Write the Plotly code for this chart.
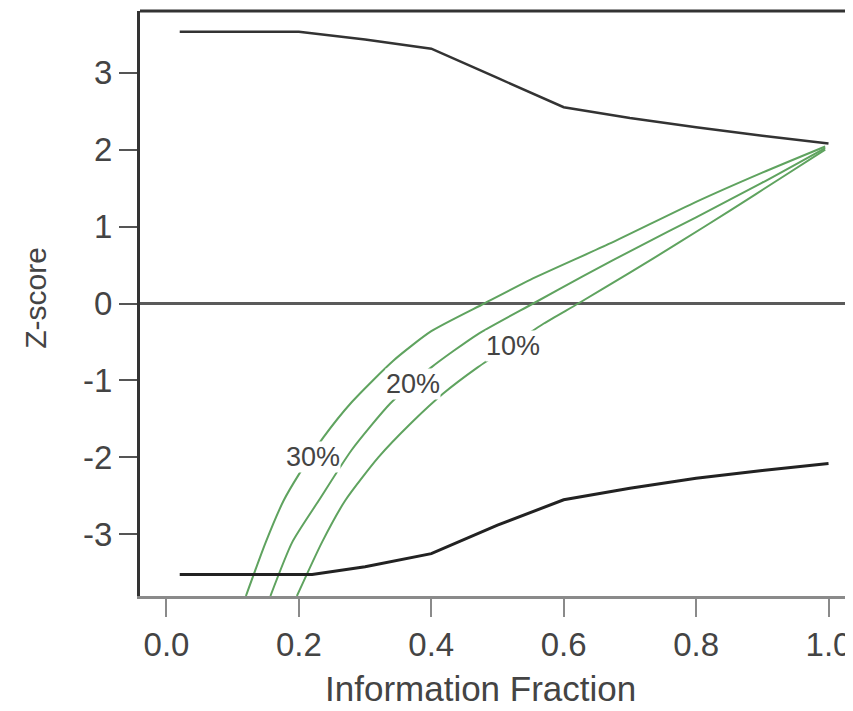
import plotly.graph_objects as go

# Monitoring boundaries (information fraction vs Z-score)
t_upper = [0.02, 0.2, 0.3, 0.4, 0.5, 0.6, 0.7, 0.8, 0.9, 1.0]
z_upper = [3.53, 3.53, 3.43, 3.31, 2.93, 2.55, 2.41, 2.29, 2.18, 2.08]
t_lower = [0.02, 0.22, 0.3, 0.4, 0.5, 0.6, 0.7, 0.8, 0.9, 1.0]
z_lower = [-3.52, -3.52, -3.42, -3.25, -2.88, -2.55, -2.40, -2.27, -2.17, -2.08]

# Cumulative Z-curves for assumed effects
t_30 = [0.12, 0.15, 0.177, 0.2, 0.237, 0.28, 0.343, 0.4, 0.48, 0.55, 0.67, 0.8, 0.9, 0.995]
z_30 = [-3.8, -3.1, -2.56, -2.22, -1.74, -1.28, -0.74, -0.36, 0.0, 0.31, 0.78, 1.32, 1.70, 2.04]
t_20 = [0.157, 0.19, 0.23, 0.28, 0.338, 0.4, 0.47, 0.554, 0.63, 0.716, 0.8, 0.9, 0.995]
z_20 = [-3.8, -3.1, -2.56, -1.9, -1.3, -0.83, -0.40, 0.0, 0.36, 0.75, 1.12, 1.57, 2.02]
t_10 = [0.197, 0.235, 0.27, 0.32, 0.37, 0.418, 0.47, 0.524, 0.57, 0.622, 0.7, 0.772, 0.85, 0.93, 0.995]
z_10 = [-3.8, -3.1, -2.56, -2.0, -1.55, -1.17, -0.83, -0.52, -0.26, 0.0, 0.40, 0.78, 1.2, 1.64, 2.0]

curve_labels = ["30%", "20%", "10%"]
label_t = [0.222, 0.373, 0.524]
label_z = [-2.0, -1.05, -0.55]

x_ticks = [0.0, 0.2, 0.4, 0.6, 0.8, 1.0]
x_ticktext = ["0.0", "0.2", "0.4", "0.6", "0.8", "1.0"]
y_ticks = [-3, -2, -1, 0, 1, 2, 3]
y_ticktext = ["-3", "-2", "-1", "0", "1", "2", "3"]

FONT = "Liberation Sans, Arial, Helvetica, sans-serif"
GREEN = "#5fa35f"

fig = go.Figure()

# zero line
fig.add_trace(go.Scatter(x=[-0.04, 1.04], y=[0, 0], mode="lines",
                         line=dict(color="#5a5a5a", width=3), hoverinfo="skip"))

for tt, zz in [(t_30, z_30), (t_20, z_20), (t_10, z_10)]:
    fig.add_trace(go.Scatter(x=tt, y=zz, mode="lines",
                             line=dict(color=GREEN, width=2, shape="spline", smoothing=0.6)))

fig.add_trace(go.Scatter(x=t_upper, y=z_upper, mode="lines",
                         line=dict(color="#333333", width=2.5)))
fig.add_trace(go.Scatter(x=t_lower, y=z_lower, mode="lines",
                         line=dict(color="#222222", width=3)))

for lab, lt, lz in zip(curve_labels, label_t, label_z):
    fig.add_annotation(x=lt, y=lz, text=lab, showarrow=False,
                       font=dict(family=FONT, size=27, color="#444444"),
                       bgcolor="white", borderpad=0)

# axis titles
fig.add_annotation(xref="paper", yref="paper", x=0.478, y=-0.158,
                   xanchor="center", yanchor="middle",
                   text="Information Fraction", showarrow=False,
                   font=dict(family=FONT, size=35, color="#444444"))
fig.add_annotation(xref="paper", yref="paper", x=-0.147, y=0.51,
                   xanchor="center", yanchor="middle", textangle=-90,
                   text="Z-score", showarrow=False,
                   font=dict(family=FONT, size=30, color="#444444"))

# top border
fig.add_shape(type="line", xref="paper", yref="paper", x0=0, x1=1, y0=1, y1=1,
              line=dict(color="#333333", width=3))

fig.update_layout(
    width=845, height=703,
    margin=dict(l=132, r=0, t=3, b=115),
    paper_bgcolor="white", plot_bgcolor="white",
    showlegend=False,
    font=dict(family=FONT, color="#444444"),
    xaxis=dict(range=[-0.04, 1.037], tickvals=x_ticks, ticktext=x_ticktext,
               showgrid=False, zeroline=False, showline=True, linecolor="#8a8a8a",
               linewidth=2.5, ticks="outside", ticklen=18, tickwidth=2,
               tickcolor="#8a8a8a", tickfont=dict(size=33, color="#444444")),
    yaxis=dict(range=[-3.8, 3.8], tickvals=y_ticks, ticktext=y_ticktext,
               showgrid=False, zeroline=False, showline=True, linecolor="#333333",
               linewidth=3, ticks="outside", ticklen=18, tickwidth=2,
               tickcolor="#555555", tickfont=dict(size=33, color="#444444")),
)

fig.write_html("out.html")
